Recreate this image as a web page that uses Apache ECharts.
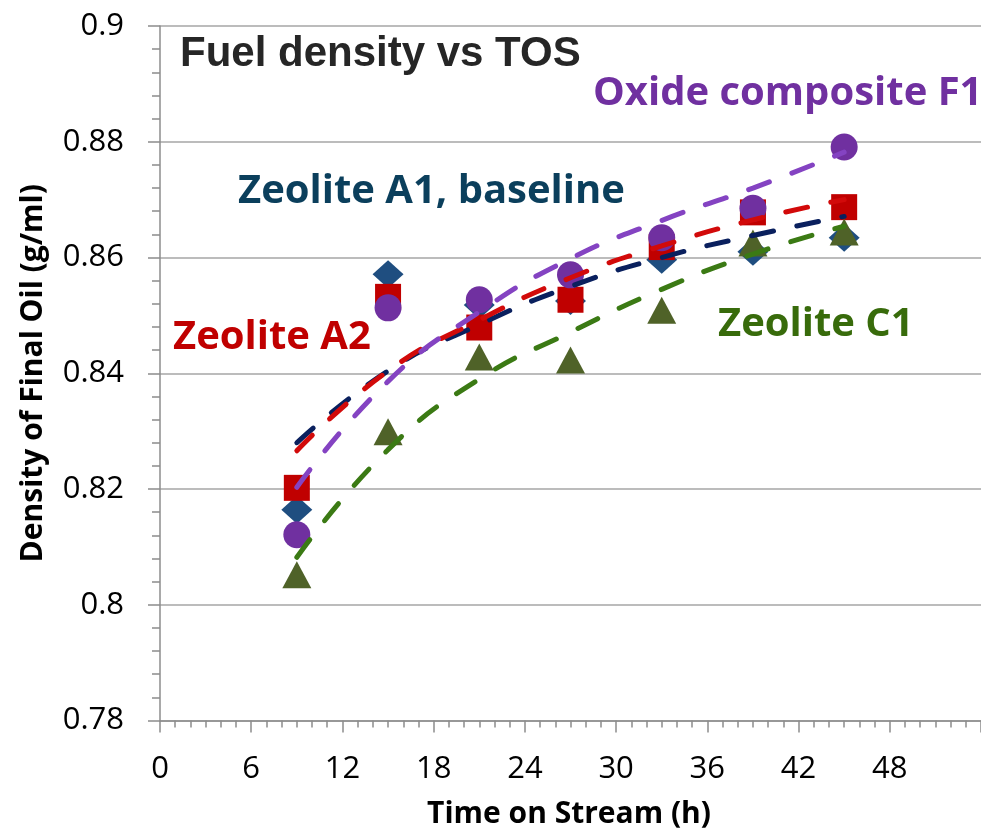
<!DOCTYPE html>
<html>
<head>
<meta charset="utf-8">
<script src="https://cdn.jsdelivr.net/npm/echarts@6/dist/echarts.min.js"></script>
<style>
html,body{margin:0;padding:0;background:#fff;}
#chart{width:981px;height:832px;}
</style>
</head>
<body>
<div id="chart"></div>
<script>
// ---- data ----
const hours = [9, 15, 21, 27, 33, 39, 45];
const zeoliteA1 = [0.8164, 0.8571, 0.8518, 0.8525, 0.8596, 0.8610, 0.8634];
const zeoliteA2 = [0.8202, 0.8532, 0.8479, 0.8527, 0.8618, 0.8678, 0.8687];
const oxideF1   = [0.8121, 0.8513, 0.8527, 0.8570, 0.8634, 0.8685, 0.8791];
const zeoliteC1 = [0.8052, 0.8299, 0.8428, 0.8423, 0.8509, 0.8625, 0.8644];
// trendlines
const trendA1 = [0.8280, 0.8404, 0.8484, 0.8550, 0.8600, 0.8638, 0.8671];
const trendA2 = [0.8266, 0.8404, 0.8492, 0.8565, 0.8620, 0.8665, 0.8700];
const trendF1 = [0.8203, 0.8386, 0.8506, 0.8598, 0.8664, 0.8720, 0.8782];
const trendC1 = [0.8082, 0.8268, 0.8390, 0.8471, 0.8545, 0.8606, 0.8654];
const chartTitle = 'Fuel density vs TOS';
const xTitle = 'Time on Stream (h)';
const yTitle = 'Density of Final Oil (g/ml)';
const labelA1 = 'Zeolite A1, baseline';
const labelA2 = 'Zeolite A2';
const labelF1 = 'Oxide composite F1';
const labelC1 = 'Zeolite C1';

const pairs = (ys) => hours.map((h, i) => [h, ys[i]]);

const chart = echarts.init(document.getElementById('chart'), null, {renderer: 'canvas'});

function scatter(name, ys, symbol, size, color, z) {
  return {
    name, type: 'scatter', data: pairs(ys), symbol, symbolSize: size,
    itemStyle: {color: color, opacity: 1}, z: z, silent: true
  };
}
function trend(name, ys, color) {
  return {
    name, type: 'line', data: pairs(ys), smooth: 0.5, showSymbol: false, symbol: 'none',
    lineStyle: {color: color, width: 5, type: [22, 24], cap: 'round'}, z: 10, silent: true
  };
}

const annoFont = 'bold 40px "Open Sans"';

chart.setOption({
  animation: false,
  backgroundColor: '#ffffff',
  grid: {left: 160, top: 26, width: 842.4, height: 694.5, containLabel: false},
  xAxis: {
    type: 'value', min: 0, max: 54, interval: 6,
    axisLine: {show: true, onZero: false, lineStyle: {color: '#8c8c8c', width: 1.5}},
    axisTick: {show: true, length: 12, lineStyle: {color: '#8c8c8c', width: 1.5}},
    minorTick: {show: true, splitNumber: 6, length: 7, lineStyle: {color: '#8c8c8c', width: 1.5}},
    splitLine: {show: false},
    axisLabel: {margin: 33, color: '#000', fontFamily: 'Open Sans', fontSize: 31, showMaxLabel: false}
  },
  yAxis: {
    type: 'value', min: 0.78, max: 0.9, interval: 0.02,
    name: yTitle, nameLocation: 'middle', nameRotate: 90, nameGap: 112,
    nameTextStyle: {fontFamily: 'Open Sans', fontWeight: 'bold', fontSize: 30, color: '#000'},
    axisLine: {show: true, onZero: false, lineStyle: {color: '#8c8c8c', width: 1.5}},
    axisTick: {show: true, length: 12, lineStyle: {color: '#8c8c8c', width: 1.5}},
    minorTick: {show: true, splitNumber: 5, length: 8, lineStyle: {color: '#8c8c8c', width: 1.5}},
    splitLine: {show: true, lineStyle: {color: '#a6a6a6', width: 1.5}},
    axisLabel: {margin: 36, color: '#000', fontFamily: 'Open Sans', fontSize: 31}
  },
  series: [
    scatter('Zeolite A1', zeoliteA1, 'diamond', [31, 28], '#1f4e80', 2),
    scatter('Zeolite A2', zeoliteA2, 'rect', 26, '#c00000', 3),
    scatter('Oxide F1', oxideF1, 'circle', 27, '#7030a0', 4),
    scatter('Zeolite C1', zeoliteC1, 'triangle', [29, 27], '#4f6228', 5),
    trend('Trend A1', trendA1, '#0a205e'),
    trend('Trend A2', trendA2, '#d20a0a'),
    trend('Trend F1', trendF1, '#8443c2'),
    trend('Trend C1', trendC1, '#3b7a14')
  ],
  graphic: [
    {type: 'text', left: 180, top: 33, z: 20, style: {text: chartTitle, font: 'bold 42px "Liberation Sans"', fill: '#262626'}},
    {type: 'text', left: 593, top: 74, z: 20, style: {text: labelF1, font: annoFont, fill: '#7030a0'}},
    {type: 'text', left: 238, top: 172, z: 20, style: {text: labelA1, font: annoFont, fill: '#0b3f5c'}},
    {type: 'text', left: 173, top: 318, z: 20, style: {text: labelA2, font: annoFont, fill: '#c00000'}},
    {type: 'text', left: 718, top: 305, z: 20, style: {text: labelC1, font: annoFont, fill: '#386b0b'}},
    {type: 'text', x: 569, y: 814, z: 20, style: {text: xTitle, font: 'bold 30px "Open Sans"', fill: '#000', align: 'center', verticalAlign: 'middle'}}
  ]
});
</script>
</body>
</html>
